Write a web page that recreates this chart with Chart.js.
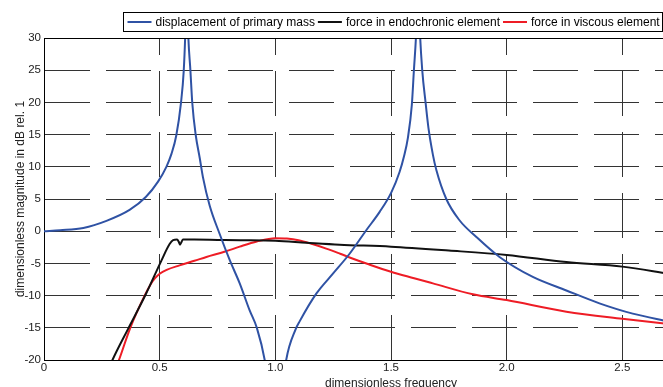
<!DOCTYPE html>
<html>
<head>
<meta charset="utf-8">
<script src="https://cdn.jsdelivr.net/npm/chart.js@4"></script>
<style>
  html, body { margin: 0; padding: 0; overflow: hidden; background: #fff; }
  #wrap { width: 663px; height: 387px; overflow: hidden; }
  canvas { display: block; }
</style>
</head>
<body>
<div id="wrap"><canvas id="chart" width="750" height="395"></canvas></div>
<script>
// curves (frequency, dB)
const seriesNames = ['displacement of primary mass', 'force in endochronic element', 'force in viscous element'];

const blueF = [0, 0.07, 0.17, 0.27, 0.37, 0.44, 0.493, 0.529, 0.551, 0.572, 0.592, 0.604, 0.611, 0.617, 0.623, 0.633, 0.641, 0.656, 0.673, 0.687, 0.716, 0.759, 0.803, 0.846, 0.889, 0.92, 0.954, 0.98, 1.0, 1.02, 1.047, 1.088, 1.105, 1.177, 1.249, 1.321, 1.393, 1.451, 1.501, 1.537, 1.556, 1.573, 1.59, 1.599, 1.609, 1.617, 1.625, 1.635, 1.65, 1.662, 1.681, 1.696, 1.739, 1.796, 1.869, 1.969, 2.113, 2.258, 2.401, 2.545, 2.7];
const blueDb = [0, 0.15, 0.5, 1.6, 3.3, 5.3, 7.7, 10, 12.0, 14.9, 19.9, 24.9, 31, 40, 31, 24.9, 19.9, 14.9, 11.4, 8.4, 4.0, -0.4, -4.5, -8.1, -12.3, -15, -20, -27, -40, -28, -20, -15.2, -14, -9.7, -6.6, -3.5, 0.15, 3.0, 6.0, 9.2, 11.6, 14.5, 19.6, 25, 31, 40, 31, 25, 19.8, 16.0, 11.9, 9.5, 5.0, 1.7, -0.9, -4, -7.1, -9.2, -11.2, -12.8, -14.0];

const blackF = [0.25, 0.296, 0.363, 0.44, 0.507, 0.543, 0.558, 0.575, 0.582, 0.588, 0.594, 0.601, 0.65, 0.75, 0.85, 1.0, 1.134, 1.278, 1.5, 1.75, 2.0, 2.258, 2.5, 2.7];
const blackDb = [-24, -20, -15.2, -9.8, -4.6, -2.0, -1.4, -1.3, -1.6, -2.1, -1.7, -1.3, -1.3, -1.35, -1.4, -1.5, -1.8, -2.1, -2.4, -3.0, -3.7, -4.8, -5.5, -6.6];

const redF = [0.28, 0.324, 0.373, 0.435, 0.46, 0.48, 0.5, 0.53, 0.586, 0.65, 0.702, 0.78, 0.846, 0.92, 1.0, 1.05, 1.1, 1.16, 1.22, 1.28, 1.33, 1.4, 1.5, 1.6, 1.681, 1.854, 2.0, 2.258, 2.5, 2.7];
const redDb = [-24, -20, -15, -10, -8.3, -7.3, -6.6, -6.0, -5.3, -4.6, -4.0, -3.2, -2.4, -1.6, -1.1, -1.15, -1.4, -2.0, -2.7, -3.5, -4.2, -5.1, -6.3, -7.3, -8.1, -9.8, -10.7, -12.5, -13.6, -14.4];

const colors = ['#2f52a4', '#111111', '#ee1c25'];
const FONT = '"Liberation Sans", Arial, sans-serif';

function pts(xs, ys) {
    return xs.map((x, i) => ({ x: x, y: ys[i] }));
}

// legend box + top frame line, drawn on the canvas
const frameAndLegend = {
    id: 'frameAndLegend',
    afterDraw(chart) {
        const ctx = chart.ctx;
        const a = chart.chartArea;
        ctx.save();
        ctx.strokeStyle = '#000';
        ctx.lineWidth = 1;
        ctx.beginPath();
        ctx.moveTo(a.left, a.top + 0.5);
        ctx.lineTo(a.right, a.top + 0.5);
        ctx.stroke();

        ctx.font = '12px ' + FONT;
        const lineLen = 24, gapText = 4, gapItem = 3, padL = 4, padR = 3;
        const widths = seriesNames.map(t => ctx.measureText(t).width);
        let total = padL + padR;
        widths.forEach((w, i) => { total += lineLen + gapText + w + (i < widths.length - 1 ? gapItem : 0); });
        const boxRight = 662.5, boxTop = 12.5, boxH = 19;
        const boxLeft = Math.round(boxRight - total) + 0.5;
        ctx.fillStyle = '#fff';
        ctx.fillRect(boxLeft, boxTop, boxRight - boxLeft, boxH);
        ctx.strokeRect(boxLeft, boxTop, boxRight - boxLeft, boxH);

        const cy = boxTop + boxH / 2;
        let x = boxLeft + padL;
        ctx.textBaseline = 'middle';
        seriesNames.forEach((t, i) => {
            ctx.strokeStyle = colors[i];
            ctx.lineWidth = 2;
            ctx.beginPath();
            ctx.moveTo(x, cy);
            ctx.lineTo(x + lineLen, cy);
            ctx.stroke();
            x += lineLen + gapText;
            ctx.fillStyle = '#000';
            ctx.fillText(t, x, cy + 0.5);
            x += widths[i] + gapItem;
        });
        ctx.restore();
    }
};

new Chart(document.getElementById('chart'), {
    type: 'line',
    data: {
        datasets: [
            { label: seriesNames[0], data: pts(blueF, blueDb), borderColor: colors[0] },
            { label: seriesNames[1], data: pts(blackF, blackDb), borderColor: colors[1] },
            { label: seriesNames[2], data: pts(redF, redDb), borderColor: colors[2] }
        ]
    },
    options: {
        responsive: false,
        animation: false,
        layout: { padding: { top: 38, right: 12, left: 0, bottom: 0 } },
        elements: {
            line: { borderWidth: 2, cubicInterpolationMode: 'monotone', fill: false },
            point: { radius: 0 }
        },
        datasets: { line: { clip: 0 } },
        plugins: { legend: { display: false }, tooltip: { enabled: false } },
        scales: {
            x: {
                type: 'linear',
                min: 0, max: 3,
                afterFit: s => { s.height = 35; },
                ticks: { stepSize: 0.5, includeBounds: false, padding: 1, color: '#222', font: { family: FONT, size: 11.5 } },
                grid: { color: '#333', lineWidth: 1, drawTicks: false },
                border: { color: '#000', width: 1, dash: [45, 16], dashOffset: 28 },
                title: { display: true, text: 'dimensionless frequency', color: '#222', font: { family: FONT, size: 12 }, padding: { top: 0, bottom: 4.5 } }
            },
            y: {
                min: -20, max: 30,
                afterFit: s => { s.width = 44; },
                ticks: { stepSize: 5, padding: 3, color: '#222', font: { family: FONT, size: 11.5 } },
                grid: { color: '#333', lineWidth: 1, drawTicks: false },
                border: { color: '#000', width: 1, dash: [45, 16], dashOffset: 0 },
                title: { display: true, text: 'dimensionless magnitude in dB rel. 1', color: '#222', font: { family: FONT, size: 12 }, padding: { top: 13.5, bottom: 0 } }
            }
        }
    },
    plugins: [frameAndLegend]
});
</script>
</body>
</html>
